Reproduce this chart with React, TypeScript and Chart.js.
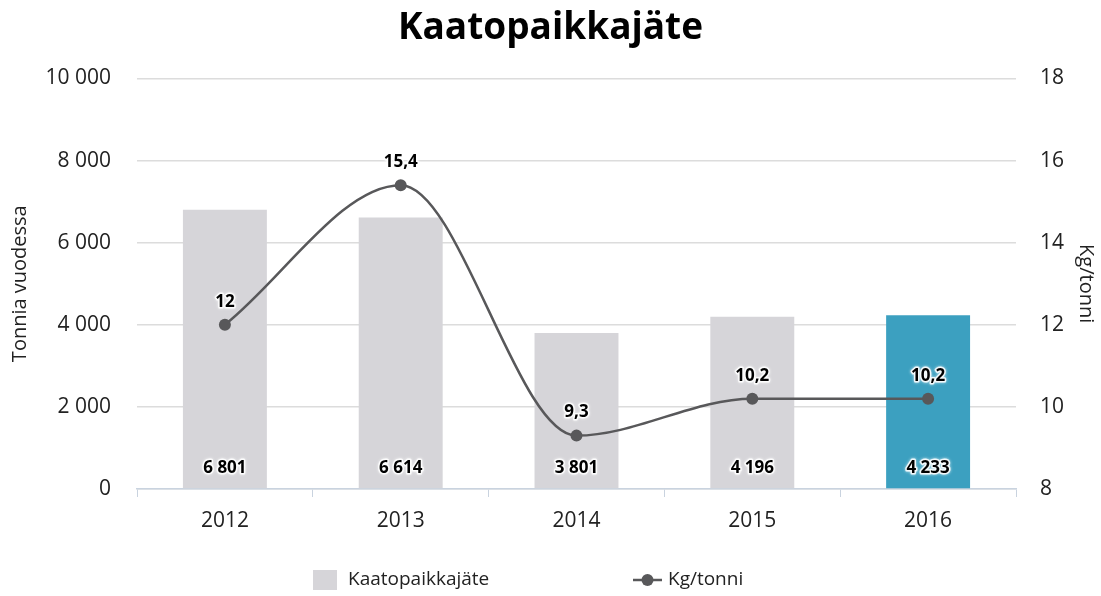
import { useEffect, useRef } from 'react';
import { Chart, registerables } from 'chart.js';

Chart.register(...registerables);

const categories = ['2012', '2013', '2014', '2015', '2016'];
const tonnes = [6801, 6614, 3801, 4196, 4233];
const kgPerTonne = [12, 15.4, 9.3, 10.2, 10.2];
const barColors = ['#d6d5d9', '#d6d5d9', '#d6d5d9', '#d6d5d9', '#3ca0c0'];
const barLegendColor = '#d6d5d9';
const lineColor = '#58585a';
const titleText = 'Kaatopaikkajäte';
const leftTitle = 'Tonnia vuodessa';
const rightTitle = 'Kg/tonni';
const barLabel = 'Kaatopaikkajäte';
const lineLabel = 'Kg/tonni';

const FONT = "'Open Sans', sans-serif";

const fmtThousands = (n: number) => String(n).replace(/\B(?=(\d{3})+(?!\d))/g, ' ');
const fmtDecimal = (n: number) => String(n).replace('.', ',');

function haloText(ctx: CanvasRenderingContext2D, text: string, x: number, y: number) {
  ctx.save();
  ctx.font = `bold 17px ${FONT}`;
  ctx.textAlign = 'center';
  ctx.textBaseline = 'middle';
  ctx.lineJoin = 'round';
  ctx.shadowColor = 'rgba(255,255,255,0.9)';
  ctx.shadowBlur = 3;
  ctx.strokeStyle = 'rgba(255,255,255,0.85)';
  ctx.lineWidth = 3;
  ctx.strokeText(text, x, y);
  ctx.shadowBlur = 0;
  ctx.fillStyle = '#000000';
  ctx.fillText(text, x, y);
  ctx.restore();
}

const labelsPlugin = {
  id: 'valueLabels',
  afterDatasetsDraw(chart: any) {
    const ctx = chart.ctx;
    chart.data.datasets.forEach((ds: any, i: number) => {
      const meta = chart.getDatasetMeta(i);
      meta.data.forEach((el: any, j: number) => {
        const v = ds.data[j];
        if (ds.type === 'bar') {
          haloText(ctx, fmtThousands(v), el.x, el.base - 20);
        } else {
          haloText(ctx, fmtDecimal(v), el.x, el.y - 23);
        }
      });
    });
  },
};

const legendPlugin = {
  id: 'customLegend',
  afterDraw(chart: any) {
    const ctx = chart.ctx;
    const y = 580;
    ctx.save();
    ctx.font = `19px ${FONT}`;
    ctx.textBaseline = 'middle';
    ctx.textAlign = 'left';
    ctx.fillStyle = barLegendColor;
    ctx.fillRect(313, y - 10, 24, 20);
    ctx.fillStyle = '#222222';
    ctx.fillText(barLabel, 348, y);
    ctx.strokeStyle = lineColor;
    ctx.lineWidth = 2.5;
    ctx.beginPath();
    ctx.moveTo(633, y);
    ctx.lineTo(662, y);
    ctx.stroke();
    ctx.fillStyle = lineColor;
    ctx.beginPath();
    ctx.arc(647.5, y, 6, 0, Math.PI * 2);
    ctx.fill();
    ctx.fillStyle = '#222222';
    ctx.fillText(lineLabel, 668, y);
    ctx.restore();
  },
};

export default function App() {
  const ref = useRef<HTMLCanvasElement | null>(null);

  useEffect(() => {
    if (!ref.current) return;
    const chart = new Chart(ref.current, {
      data: {
        labels: categories,
        datasets: [
          {
            type: 'line',
            label: lineLabel,
            data: kgPerTonne,
            yAxisID: 'y1',
            borderColor: lineColor,
            backgroundColor: lineColor,
            borderWidth: 2.5,
            pointRadius: 6,
            pointBackgroundColor: lineColor,
            pointBorderColor: lineColor,
            pointBorderWidth: 0,
            cubicInterpolationMode: 'monotone',
            order: 0,
          } as any,
          {
            type: 'bar',
            label: barLabel,
            data: tonnes,
            yAxisID: 'y',
            backgroundColor: barColors,
            borderWidth: 0,
            barPercentage: 0.4775,
            categoryPercentage: 1,
            order: 1,
          } as any,
        ],
      },
      options: {
        animation: false,
        responsive: true,
        maintainAspectRatio: false,
        layout: { padding: { top: 0, bottom: 50, left: 0, right: 0 } },
        plugins: {
          legend: { display: false },
          tooltip: { enabled: false },
          title: {
            display: true,
            text: titleText,
            color: '#000000',
            font: { family: FONT, size: 37, weight: 'bold' },
            padding: { top: 6, bottom: 28 },
          },
        },
        scales: {
          x: {
            afterFit: (s: any) => { s.height = 57; },
            grid: {
              offset: true,
              drawOnChartArea: false,
              drawTicks: true,
              tickLength: 8,
              color: '#c9d3df',
            },
            border: { display: true, color: '#c9d3df', width: 1.5 },
            ticks: {
              color: '#222222',
              font: { family: FONT, size: 21 },
              padding: 11,
            },
          },
          y: {
            position: 'left',
            min: 0,
            max: 10000,
            afterFit: (s: any) => { s.width = 137; },
            ticks: {
              stepSize: 2000,
              color: '#222222',
              font: { family: FONT, size: 21 },
              padding: 26,
              callback: (v: any) => fmtThousands(Number(v)),
            },
            grid: { color: '#dcdcdc', drawTicks: false, lineWidth: 1.5 },
            border: { display: false },
            title: {
              display: true,
              text: leftTitle,
              color: '#222222',
              font: { family: FONT, size: 20 },
              padding: { top: 8, bottom: 0 },
            },
          },
          y1: {
            position: 'right',
            min: 8,
            max: 18,
            afterFit: (s: any) => { s.width = 85; },
            ticks: {
              stepSize: 2,
              color: '#222222',
              font: { family: FONT, size: 21 },
              padding: 24,
            },
            grid: { drawOnChartArea: false, drawTicks: false },
            border: { display: false },
            title: {
              display: true,
              text: rightTitle,
              color: '#222222',
              font: { family: FONT, size: 20 },
              padding: { top: 3, bottom: 0 },
            },
          },
        },
      } as any,
      plugins: [labelsPlugin, legendPlugin],
    });
    return () => chart.destroy();
  }, []);

  return (
    <div style={{ position: 'fixed', left: 0, top: 0, width: 1101, height: 596, background: '#ffffff' }}>
      <canvas ref={ref} />
    </div>
  );
}
